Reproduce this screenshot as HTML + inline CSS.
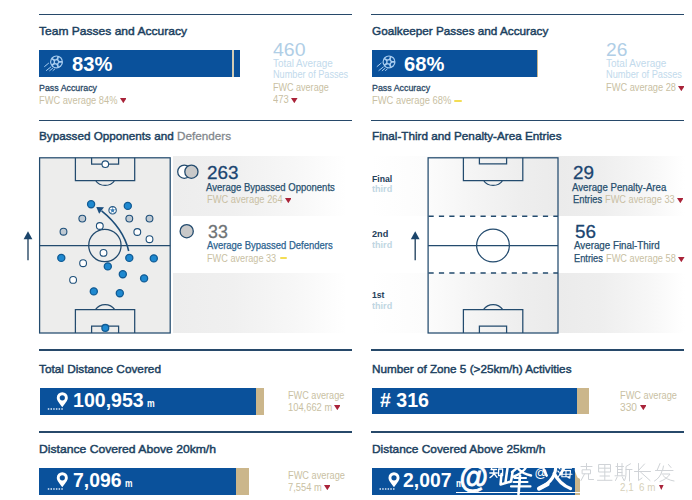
<!DOCTYPE html>
<html><head><meta charset="utf-8"><title>Match stats</title>
<style>
html,body{margin:0;padding:0;background:#fff;}
body{width:692px;height:500px;position:relative;overflow:hidden;font-family:"Liberation Sans",sans-serif;}
.t{position:absolute;white-space:nowrap;transform-origin:0 0;}
.b{position:absolute;}
</style></head><body>
<div class="b" style="left:173px;top:156.4px;width:173px;height:59.8px;background:linear-gradient(90deg,#ededed 0%,#f0f0f0 35%,#f7f7f7 70%,#ffffff 100%)"></div>
<div class="b" style="left:173px;top:273.4px;width:173px;height:60px;background:linear-gradient(90deg,#ededed 0%,#f0f0f0 35%,#f7f7f7 70%,#ffffff 100%)"></div>
<div class="b" style="left:371px;top:156.4px;width:314px;height:59.8px;background:linear-gradient(90deg,#ffffff 0%,#fcfcfc 17.8%,#f5f5f5 31.5%,#eeeeee 47.5%,#ebebeb 59.6%,#eeeeee 73%,#f7f7f7 89%,#ffffff 100%)"></div>
<div class="b" style="left:371px;top:273.4px;width:314px;height:60px;background:linear-gradient(90deg,#ffffff 0%,#fcfcfc 17.8%,#f5f5f5 31.5%,#eeeeee 47.5%,#ebebeb 59.6%,#eeeeee 73%,#f7f7f7 89%,#ffffff 100%)"></div>

<svg class="b" style="left:0;top:150px" width="692" height="190" viewBox="0 150 692 190" fill="none" stroke="#234b6e" stroke-width="1.25">
<!-- left pitch -->
<rect x="39.6" y="157.8" width="130.6" height="175.2" fill="#ededec"/>
<path d="M75.4 157.8V180.5H134.7V157.8M91.6 157.8V164.2H118.6V157.8M95.4 180.5A12 12 0 0 0 114.8 180.5"/>
<path d="M75.4 333V309.6H134.7V333M91.6 333V326.2H118.6V333M95.4 309.6A12 12 0 0 1 114.8 309.6"/>
<path d="M39.6 245.5H170.2"/>
<circle cx="104.9" cy="245.5" r="16.2"/>
<!-- direction arrow left -->
<path d="M28 260.2V238" stroke="#2a4965" stroke-width="1.4"/>
<path d="M23.6 239.2L28 231.3L32.4 239.2Z" fill="#1b456b" stroke="none"/>
<!-- pass arrow -->
<path d="M128.7 251Q123.5 228.5 101.6 210.9" stroke="#1d4e79" stroke-width="1.6"/>
<path d="M96.3 207.1L104 207.3L99.1 213.8Z" fill="#1b4f80" stroke="none"/>
<!-- dots -->
<g stroke="#1f507a" stroke-width="1.1">
<g fill="#1f89d0" stroke="#115b94" stroke-width="1.3">
<circle cx="91.1" cy="204.2" r="3.55"/><circle cx="127.8" cy="205.9" r="3.55"/>
<circle cx="61.3" cy="257.9" r="3.55"/><circle cx="129.3" cy="257.9" r="3.55"/><circle cx="153.8" cy="258.4" r="3.55"/>
<circle cx="107.8" cy="266.4" r="3.55"/><circle cx="122.8" cy="274.2" r="3.55"/><circle cx="144.1" cy="278.4" r="3.55"/>
<circle cx="93.8" cy="291.4" r="3.55"/><circle cx="119.8" cy="293.2" r="3.55"/><circle cx="105.3" cy="327.9" r="3.4"/>
</g>
<g fill="#bfc9d2">
<circle cx="82.3" cy="218.6" r="3.4"/><circle cx="129.3" cy="218.6" r="3.4"/><circle cx="149.5" cy="218.6" r="3.4"/><circle cx="63.5" cy="231.7" r="3.4"/>
</g>
<g fill="#ffffff">
<circle cx="105.3" cy="164.2" r="3.3"/>
<circle cx="99.8" cy="226.0" r="3.4"/><circle cx="137.3" cy="232.0" r="3.4"/><circle cx="149.5" cy="239.2" r="3.4"/>
<circle cx="103.5" cy="252.9" r="3.4"/><circle cx="83.1" cy="263.2" r="3.4"/><circle cx="73.1" cy="279.9" r="3.4"/>
</g>
</g>
<!-- ball -->
<circle cx="112.6" cy="210.3" r="3.7" fill="#fff" stroke="#24557f" stroke-width="1.1"/>
<path d="M112.6 208.5l1.8 1.3-.7 2.1h-2.2l-.7-2.1z" fill="#3f80b6" stroke="none"/>
<path d="M112.6 208.5V206.8M114.4 209.8l1.7-.6M113.7 211.9l1.1 1.5M111.5 211.9l-1.1 1.5M110.8 209.8l-1.7-.6" stroke="#3f80b6" stroke-width="0.8"/>
<!-- legend circles -->
<circle cx="184.3" cy="171.7" r="6.6" fill="#fff" stroke-width="1.3"/>
<circle cx="191.4" cy="171.7" r="6.6" fill="#c9c9c9" stroke-width="1.3"/>
<circle cx="186.7" cy="231.2" r="6.6" fill="#c9c9c9" stroke-width="1.3"/>

<!-- right pitch -->
<rect x="428.1" y="157.8" width="129.9" height="175.2"/>
<path d="M463.4 157.8V180.5H522.8V157.8M479.4 157.8V163.9H506.6V157.8M483.4 180.5A12 12 0 0 0 502.8 180.5"/>
<path d="M463.4 333V309.6H522.8V333M479.4 333V326.2H506.6V333M483.4 309.6A12 12 0 0 1 502.8 309.6"/>
<path d="M428.1 245.5H558"/>
<circle cx="493" cy="245.5" r="16.4"/>
<path d="M428.1 216.2H558M428.1 273H558" stroke-dasharray="5.2 5.2" stroke-dashoffset="-0.4" stroke-width="1.6"/>
<path d="M415.2 260.2V238" stroke="#2a4965" stroke-width="1.4"/>
<path d="M410.8 239.2L415.2 231.3L419.6 239.2Z" fill="#1b456b" stroke="none"/>
</svg>

<div class="b" style="left:39px;top:13.8px;width:313.1px;height:1.5px;background:#27496a;"></div>
<div class="b" style="left:371.3px;top:13.8px;width:313.2px;height:1.5px;background:#27496a;"></div>
<div class="b" style="left:39px;top:119.8px;width:313.1px;height:1.5px;background:#27496a;"></div>
<div class="b" style="left:371.3px;top:119.8px;width:313.2px;height:1.5px;background:#27496a;"></div>
<div class="b" style="left:39px;top:349.2px;width:313.1px;height:1.5px;background:#27496a;"></div>
<div class="b" style="left:371.3px;top:349.2px;width:313.2px;height:1.5px;background:#27496a;"></div>
<div class="b" style="left:39px;top:431.2px;width:313.1px;height:1.5px;background:#27496a;"></div>
<div class="b" style="left:371.3px;top:431.2px;width:313.2px;height:1.5px;background:#27496a;"></div>
<div class="t" style="left:39px;top:26.40px;font-size:11.8px;line-height:11.8px;color:#1b3f60;-webkit-text-stroke:0.45px currentColor;transform:scaleX(1.0212);">Team Passes and Accuracy</div>
<div class="t" style="left:371.5px;top:26.40px;font-size:11.8px;line-height:11.8px;color:#1b3f60;-webkit-text-stroke:0.45px currentColor;transform:scaleX(0.9957);">Goalkeeper Passes and Accuracy</div>
<div class="t" style="left:39px;top:131.40px;font-size:11.8px;line-height:11.8px;color:#1b3f60;-webkit-text-stroke:0.45px currentColor;transform:scaleX(0.9923);">Bypassed Opponents and <span style="color:#83888d;-webkit-text-stroke:0.3px #83888d">Defenders</span></div>
<div class="t" style="left:371.5px;top:131.40px;font-size:11.8px;line-height:11.8px;color:#1b3f60;-webkit-text-stroke:0.45px currentColor;transform:scaleX(0.9931);">Final-Third and Penalty-Area Entries</div>
<div class="t" style="left:39px;top:363.60px;font-size:11.8px;line-height:11.8px;color:#1b3f60;-webkit-text-stroke:0.45px currentColor;">Total Distance Covered</div>
<div class="t" style="left:371.5px;top:363.60px;font-size:11.8px;line-height:11.8px;color:#1b3f60;-webkit-text-stroke:0.45px currentColor;transform:scaleX(0.9927);">Number of Zone 5 (&gt;25km/h) Activities</div>
<div class="t" style="left:39px;top:444.01px;font-size:11.8px;line-height:11.8px;color:#1b3f60;-webkit-text-stroke:0.45px currentColor;transform:scaleX(1.0302);">Distance Covered Above 20km/h</div>
<div class="t" style="left:371.5px;top:444.01px;font-size:11.8px;line-height:11.8px;color:#1b3f60;-webkit-text-stroke:0.45px currentColor;transform:scaleX(1.0098);">Distance Covered Above 25km/h</div>
<div class="b" style="left:39px;top:50px;width:201px;height:26.5px;background:#0a519b;"></div>
<div class="b" style="left:232px;top:50px;width:2.2px;height:26.5px;background:#d3ccb4;"></div>
<div class="b" style="left:371.5px;top:50px;width:165px;height:26.5px;background:#0a519b;"></div>
<div class="b" style="left:536.5px;top:50px;width:1.5px;height:26.5px;background:#cbb68b;"></div>
<div class="b" style="left:39.5px;top:388px;width:216.5px;height:26.5px;background:#0a519b;"></div>
<div class="b" style="left:256px;top:388px;width:8px;height:26.5px;background:#cbb68b;"></div>
<div class="b" style="left:371.5px;top:387.5px;width:205.5px;height:26.5px;background:#0a519b;"></div>
<div class="b" style="left:577px;top:387.5px;width:11.5px;height:26.5px;background:#cbb68b;"></div>
<div class="b" style="left:39px;top:468px;width:196.5px;height:26.5px;background:#0a519b;"></div>
<div class="b" style="left:235.5px;top:468px;width:13px;height:26.5px;background:#cbb68b;"></div>
<div class="b" style="left:371.5px;top:468px;width:203px;height:26.5px;background:#0a519b;"></div>
<div class="b" style="left:574.5px;top:468px;width:5.5px;height:26.5px;background:#cbb68b;"></div>
<div class="t" style="left:71.7px;top:53.51px;font-size:20px;line-height:20px;color:#fff;font-weight:bold;transform:scaleX(1.0067);">83%</div>
<div class="t" style="left:403.7px;top:53.51px;font-size:20px;line-height:20px;color:#fff;font-weight:bold;transform:scaleX(1.0067);">68%</div>
<div class="t" style="left:72.9px;top:390.40px;font-size:20px;line-height:20px;color:#fff;font-weight:bold;transform:scaleX(0.9779);">100,953</div>
<div class="t" style="left:146.8px;top:399.41px;font-size:10px;line-height:10px;color:#fff;font-weight:bold;transform:scaleX(0.8646);">m</div>
<div class="t" style="left:380px;top:390.40px;font-size:20px;line-height:20px;color:#fff;font-weight:bold;transform:scaleX(0.9788);"># 316</div>
<div class="t" style="left:72.5px;top:470.40px;font-size:20px;line-height:20px;color:#fff;font-weight:bold;transform:scaleX(0.9688);">7,096</div>
<div class="t" style="left:125px;top:479.41px;font-size:10px;line-height:10px;color:#fff;font-weight:bold;transform:scaleX(0.8421);">m</div>
<div class="t" style="left:403.4px;top:470.40px;font-size:20px;line-height:20px;color:#fff;font-weight:bold;transform:scaleX(0.9668);">2,007</div>
<div class="t" style="left:456.3px;top:479.41px;font-size:10px;line-height:10px;color:#fff;font-weight:bold;transform:scaleX(0.8421);">m</div>
<div class="t" style="left:39.4px;top:83.21px;font-size:9.8px;line-height:9.8px;color:#2a4966;-webkit-text-stroke:0.3px currentColor;transform:scaleX(0.9027);">Pass Accuracy</div>
<div class="t" style="left:371.9px;top:83.21px;font-size:9.8px;line-height:9.8px;color:#2a4966;-webkit-text-stroke:0.3px currentColor;transform:scaleX(0.9043);">Pass Accuracy</div>
<div class="t" style="left:39.2px;top:95.51px;font-size:10px;line-height:10px;color:#c9bfa3;transform:scaleX(0.9280);">FWC average 84%</div>
<svg class="b" style="left:119.8px;top:98.1px" width="6.6" height="5.2" viewBox="0 0 6.6 5.2"><path d="M0 0H6.6L3.3 5.2Z" fill="#a92339"/></svg>
<div class="t" style="left:371.7px;top:95.51px;font-size:10px;line-height:10px;color:#c9bfa3;transform:scaleX(0.9386);">FWC average 68%</div>
<div class="b" style="left:454px;top:99.5px;width:8px;height:2.1px;background:#f3dd55;border-radius:1px;"></div>
<div class="t" style="left:273.3px;top:40.41px;font-size:19px;line-height:19px;color:#b0cee6;transform:scaleX(1.0251);">460</div>
<div class="t" style="left:273.3px;top:59.30px;font-size:10px;line-height:10px;color:#c2daec;transform:scaleX(0.9897);">Total Average</div>
<div class="t" style="left:273.3px;top:70.01px;font-size:10px;line-height:10px;color:#c2daec;transform:scaleX(0.9141);">Number of Passes</div>
<div class="t" style="left:273.3px;top:83.01px;font-size:10px;line-height:10px;color:#c9bfa3;transform:scaleX(0.9029);">FWC average</div>
<div class="t" style="left:273.3px;top:95.30px;font-size:10px;line-height:10px;color:#c9bfa3;transform:scaleX(0.9408);">473</div>
<svg class="b" style="left:291.3px;top:98.1px" width="6.6" height="5.2" viewBox="0 0 6.6 5.2"><path d="M0 0H6.6L3.3 5.2Z" fill="#a92339"/></svg>
<div class="t" style="left:606px;top:40.41px;font-size:19px;line-height:19px;color:#b0cee6;transform:scaleX(1.0075);">26</div>
<div class="t" style="left:606px;top:59.30px;font-size:10px;line-height:10px;color:#c2daec;">Total Average</div>
<div class="t" style="left:606px;top:70.01px;font-size:10px;line-height:10px;color:#c2daec;transform:scaleX(0.9238);">Number of Passes</div>
<div class="t" style="left:606px;top:83.01px;font-size:10px;line-height:10px;color:#c9bfa3;transform:scaleX(0.9260);">FWC average 28</div>
<svg class="b" style="left:677.5px;top:85.7px" width="6.6" height="5.2" viewBox="0 0 6.6 5.2"><path d="M0 0H6.6L3.3 5.2Z" fill="#a92339"/></svg>
<div class="t" style="left:206.9px;top:163.41px;font-size:19px;line-height:19px;color:#1b4570;-webkit-text-stroke:0.3px currentColor;transform:scaleX(0.9936);">263</div>
<div class="t" style="left:206.2px;top:182.80px;font-size:10.1px;line-height:10.1px;color:#28506f;-webkit-text-stroke:0.25px currentColor;transform:scaleX(0.9420);">Average Bypassed Opponents</div>
<div class="t" style="left:206.6px;top:195.01px;font-size:10px;line-height:10px;color:#c9bfa3;transform:scaleX(0.9328);">FWC average 264</div>
<svg class="b" style="left:284.6px;top:198.2px" width="6.6" height="5.2" viewBox="0 0 6.6 5.2"><path d="M0 0H6.6L3.3 5.2Z" fill="#a92339"/></svg>
<div class="t" style="left:208px;top:222.41px;font-size:19px;line-height:19px;color:#6f7376;-webkit-text-stroke:0.3px currentColor;transform:scaleX(0.9366);">33</div>
<div class="t" style="left:206.8px;top:241.41px;font-size:10.1px;line-height:10.1px;color:#2c6390;-webkit-text-stroke:0.25px currentColor;transform:scaleX(0.9386);">Average Bypassed Defenders</div>
<div class="t" style="left:206.8px;top:253.82px;font-size:10px;line-height:10px;color:#c9bfa3;transform:scaleX(0.9154);">FWC average 33</div>
<div class="b" style="left:279.7px;top:257.4px;width:7.5px;height:2.1px;background:#f3dd55;border-radius:1px;"></div>
<div class="t" style="left:573.4px;top:163.41px;font-size:19px;line-height:19px;color:#1b4570;-webkit-text-stroke:0.3px currentColor;transform:scaleX(0.9933);">29</div>
<div class="t" style="left:572.2px;top:182.80px;font-size:10.1px;line-height:10.1px;color:#28506f;-webkit-text-stroke:0.25px currentColor;transform:scaleX(0.9566);">Average Penalty-Area</div>
<div class="t" style="left:572.5px;top:195.10px;font-size:10.1px;line-height:10.1px;color:#28506f;-webkit-text-stroke:0.25px currentColor;transform:scaleX(0.9261);">Entries</div>
<div class="t" style="left:604.8px;top:195.10px;font-size:10px;line-height:10px;color:#c9bfa3;transform:scaleX(0.9220);">FWC average 33</div>
<svg class="b" style="left:676.8px;top:198.3px" width="6.6" height="5.2" viewBox="0 0 6.6 5.2"><path d="M0 0H6.6L3.3 5.2Z" fill="#a92339"/></svg>
<div class="t" style="left:574.9px;top:222.41px;font-size:19px;line-height:19px;color:#1b4570;-webkit-text-stroke:0.3px currentColor;transform:scaleX(0.9933);">56</div>
<div class="t" style="left:574px;top:241.41px;font-size:10.1px;line-height:10.1px;color:#28506f;-webkit-text-stroke:0.25px currentColor;transform:scaleX(0.9676);">Average Final-Third</div>
<div class="t" style="left:574.2px;top:253.71px;font-size:10.1px;line-height:10.1px;color:#28506f;-webkit-text-stroke:0.25px currentColor;transform:scaleX(0.9166);">Entries</div>
<div class="t" style="left:606.2px;top:253.71px;font-size:10px;line-height:10px;color:#c9bfa3;transform:scaleX(0.9234);">FWC average 58</div>
<svg class="b" style="left:678.2px;top:256.7px" width="6.6" height="5.2" viewBox="0 0 6.6 5.2"><path d="M0 0H6.6L3.3 5.2Z" fill="#a92339"/></svg>
<div class="t" style="left:371.5px;top:173.71px;font-size:9.8px;line-height:9.8px;color:#24405a;font-weight:bold;transform:scaleX(0.8874);">Final</div>
<div class="t" style="left:371.6px;top:183.90px;font-size:9.8px;line-height:9.8px;color:#c0d6e2;font-weight:bold;transform:scaleX(0.9281);">third</div>
<div class="t" style="left:371.5px;top:229.40px;font-size:9.8px;line-height:9.8px;color:#24405a;font-weight:bold;transform:scaleX(0.9356);">2nd</div>
<div class="t" style="left:371.6px;top:239.80px;font-size:9.8px;line-height:9.8px;color:#c0d6e2;font-weight:bold;transform:scaleX(0.9281);">third</div>
<div class="t" style="left:371.5px;top:290.01px;font-size:9.8px;line-height:9.8px;color:#24405a;font-weight:bold;transform:scaleX(0.8820);">1st</div>
<div class="t" style="left:371.6px;top:301.40px;font-size:9.8px;line-height:9.8px;color:#c0d6e2;font-weight:bold;transform:scaleX(0.9281);">third</div>
<div class="t" style="left:287.6px;top:390.51px;font-size:10px;line-height:10px;color:#c9bfa3;transform:scaleX(0.9127);">FWC average</div>
<div class="t" style="left:287.6px;top:403.01px;font-size:10px;line-height:10px;color:#c9bfa3;transform:scaleX(0.9351);">104,662 m</div>
<svg class="b" style="left:333.6px;top:405.1px" width="6.6" height="5.2" viewBox="0 0 6.6 5.2"><path d="M0 0H6.6L3.3 5.2Z" fill="#a92339"/></svg>
<div class="t" style="left:619.5px;top:390.51px;font-size:10px;line-height:10px;color:#c9bfa3;transform:scaleX(0.9240);">FWC average</div>
<div class="t" style="left:619.5px;top:403.01px;font-size:10px;line-height:10px;color:#c9bfa3;transform:scaleX(1.0187);">330</div>
<svg class="b" style="left:639.7px;top:405.1px" width="6.6" height="5.2" viewBox="0 0 6.6 5.2"><path d="M0 0H6.6L3.3 5.2Z" fill="#a92339"/></svg>
<div class="t" style="left:288px;top:470.51px;font-size:10px;line-height:10px;color:#c9bfa3;transform:scaleX(0.9240);">FWC average</div>
<div class="t" style="left:288px;top:483.01px;font-size:10px;line-height:10px;color:#c9bfa3;transform:scaleX(0.9325);">7,554 m</div>
<svg class="b" style="left:323.5px;top:485.2px" width="6.6" height="5.2" viewBox="0 0 6.6 5.2"><path d="M0 0H6.6L3.3 5.2Z" fill="#a92339"/></svg>
<div class="t" style="left:619.5px;top:483.01px;font-size:10px;line-height:10px;color:#c9bfa3;opacity:.75;transform:scaleX(0.9823);">2,1&nbsp; 6 m</div>
<svg class="b" style="left:659px;top:484.8px" width="4.6" height="5" viewBox="0 0 4.6 5"><path d="M0 0H4.6L2.3 5Z" fill="#a92339"/></svg>
<svg class="b" style="left:0;top:0" width="692" height="500" viewBox="0 0 692 500" fill="none">
<g transform="translate(56.5 61.9)">
<circle cx="0" cy="0" r="6.5" fill="#a9cdf0"/>
<path d="M1.75 0.00L0.54 1.66L-1.42 1.03L-1.42 -1.03L0.54 -1.66Z M-3.75 -3.75A5.3 5.3 0 0 1 0.83 -5.23L0.08 -3.20L-0.83 -2.57L-1.95 -2.54Z M2.41 -4.72A5.3 5.3 0 0 1 5.23 -0.83L3.07 -0.91L2.18 -1.59L1.82 -2.64Z M5.23 0.83A5.3 5.3 0 0 1 2.41 4.72L1.82 2.64L2.18 1.59L3.07 0.91Z M0.83 5.23A5.3 5.3 0 0 1 -3.75 3.75L-1.95 2.54L-0.83 2.57L0.08 3.20Z M-4.72 2.41A5.3 5.3 0 0 1 -4.72 -2.41L-3.02 -1.07L-2.70 0.00L-3.02 1.07Z" fill="#0a519b"/>
<path d="M-11.9 4.6L-7.9 1.3M-10.1 8.6L-5.7 5.1M-6.8 8.8L-3.9 6.4M-3.5 8.6L-1.7 7.1" stroke="#a9cdf0" stroke-width="1" stroke-linecap="round"/>
</g>
<g transform="translate(389 61.9)">
<circle cx="0" cy="0" r="6.5" fill="#a9cdf0"/>
<path d="M1.75 0.00L0.54 1.66L-1.42 1.03L-1.42 -1.03L0.54 -1.66Z M-3.75 -3.75A5.3 5.3 0 0 1 0.83 -5.23L0.08 -3.20L-0.83 -2.57L-1.95 -2.54Z M2.41 -4.72A5.3 5.3 0 0 1 5.23 -0.83L3.07 -0.91L2.18 -1.59L1.82 -2.64Z M5.23 0.83A5.3 5.3 0 0 1 2.41 4.72L1.82 2.64L2.18 1.59L3.07 0.91Z M0.83 5.23A5.3 5.3 0 0 1 -3.75 3.75L-1.95 2.54L-0.83 2.57L0.08 3.20Z M-4.72 2.41A5.3 5.3 0 0 1 -4.72 -2.41L-3.02 -1.07L-2.70 0.00L-3.02 1.07Z" fill="#0a519b"/>
<path d="M-11.9 4.6L-7.9 1.3M-10.1 8.6L-5.7 5.1M-6.8 8.8L-3.9 6.4M-3.5 8.6L-1.7 7.1" stroke="#a9cdf0" stroke-width="1" stroke-linecap="round"/>
</g>
<g transform="translate(62.3 407.3)">
<path d="M0 0C-2.4 -3.6 -5.5 -6.6 -5.5 -9.6A5.5 5.5 0 0 1 5.5 -9.6C5.5 -6.6 2.4 -3.6 0 0Z" fill="#fff"/>
<circle cx="0" cy="-9.5" r="2.6" fill="#0a519b"/>
<path d="M-14.5 1.6H1" stroke="#dbe7f5" stroke-width="1.5" stroke-dasharray="1.5 1.2"/>
</g>
<g transform="translate(62.3 487.3)">
<path d="M0 0C-2.4 -3.6 -5.5 -6.6 -5.5 -9.6A5.5 5.5 0 0 1 5.5 -9.6C5.5 -6.6 2.4 -3.6 0 0Z" fill="#fff"/>
<circle cx="0" cy="-9.5" r="2.6" fill="#0a519b"/>
<path d="M-14.5 1.6H1" stroke="#dbe7f5" stroke-width="1.5" stroke-dasharray="1.5 1.2"/>
</g>
<g transform="translate(394 487.3)">
<path d="M0 0C-2.4 -3.6 -5.5 -6.6 -5.5 -9.6A5.5 5.5 0 0 1 5.5 -9.6C5.5 -6.6 2.4 -3.6 0 0Z" fill="#fff"/>
<circle cx="0" cy="-9.5" r="2.6" fill="#0a519b"/>
<path d="M-14.5 1.6H1" stroke="#dbe7f5" stroke-width="1.5" stroke-dasharray="1.5 1.2"/>
</g>
<g stroke="#fff" stroke-linecap="round" stroke-linejoin="round" fill="none">
<path d="M456 492.5H580" stroke-width="1.2" stroke-linecap="butt"/>
<!-- zhi -->
<g stroke-width="1.3">
<path d="M492.5 466.5L491 469.5M491 469.5H496.5M489.8 473H497.3M493.8 469.5V472.5C493.6 475 492 476.6 490 477.6M494 473.5L497 477.4"/>
<path d="M498.6 469H502.6V475.6H498.6Z"/>
</g>
<!-- feng -->
<g stroke-width="2.5">
<path d="M507.5 468L505.5 482M501.5 474L500.5 484.5L511 481.5L512.5 472.5"/>
<path d="M519.5 463.5C517.5 468 514.5 470.5 512 472M517 466.5H526.5C524.5 470.5 519.5 474.5 512.5 477M518 468.5C521 472 526 474.5 531 475.5"/>
<path d="M514.5 478H526M513.5 482H527.5M511 486.4H530.5" stroke-width="2.1"/>
<path d="M520 475.5L518.5 494" stroke-width="2.7"/>
</g>
<!-- small @ and hai -->
<g stroke-width="1.1">
<path d="M558.5 467.5L560 469M557.8 471L559.2 472.4M557.5 478L559.8 474.5"/>
<path d="M563.5 466L562 469M562 468.3H571.5M562.5 470.6H570.5L569.8 478.2L568 477.6M561.3 474.3H572M562.5 470.6L561.8 476.8H569.8M566 471.3V476.5"/>
</g>
<!-- huo -->
<path d="M555.8 463.5C556.5 474 551 483 539.5 488.4" stroke-width="3.1"/>
<path d="M547.5 484.2L539 488.6" stroke-width="4.2"/>
<path d="M554.2 473.5C557.5 480 563 485.5 570.5 488.6" stroke-width="3.3"/>
<path d="M543.8 469.5L546.6 475.5M564.5 467.5L560.5 474" stroke-width="2.7"/>
</g>
<text x="459" y="487.6" font-family="Liberation Sans, sans-serif" font-weight="bold" font-style="italic" font-size="31" fill="#fff" stroke="#fff" stroke-width="0.8" textLength="28.5" lengthAdjust="spacingAndGlyphs">@</text>
<text x="534.6" y="476.6" font-family="Liberation Sans, sans-serif" font-size="12.5" fill="#fff">@</text>
<path d="M574.8 467.5H581V479.5L577.5 477.5L574.8 471Z" fill="#fff"/>
<!-- faint shadow glyphs on white -->
<g stroke="#cbcfd3" stroke-width="1" stroke-linecap="round" fill="none" opacity=".9">
<path d="M581 466.5H592M586.5 463.5V469.5M582.5 469.8H590.5V473.8H582.5ZM584.5 474L581 480.5M588.5 474V479.5H593.5"/>
<path d="M599 464.5H610.5V472H599ZM599 468.2H610.5M604.8 464.5V480M600 476H609.5M597.5 480.3H612"/>
<path d="M616 466.5H623.5M617.5 463.5V475.5M622 463.5V475.5M615 475.8H624.5M617.5 469.5H622M617.5 472.5H622M617.2 477L615.5 480.5M622.3 477L624 480.5M630.5 463.8L626 466.5V473C626 476 625.5 478.5 624.5 480.5M626 469.5H632M629.5 469.5V481"/>
<path d="M638.5 463.5V480.5L642 478M644.5 464L638.5 470.5M634.5 471.5H650.5M640.5 472L650 480.5"/>
<path d="M660 463.5L657 470.5M655.5 470.5H673M663.5 466L662.5 470.5M662 471C661 475.5 658 479 654.5 481M662 474H670C668 477.5 664 480 660 481.5M663 475.5C665 478 669 480.3 674 481M668.5 464.5L671 467.5"/>
</g>
</svg>

</body></html>
